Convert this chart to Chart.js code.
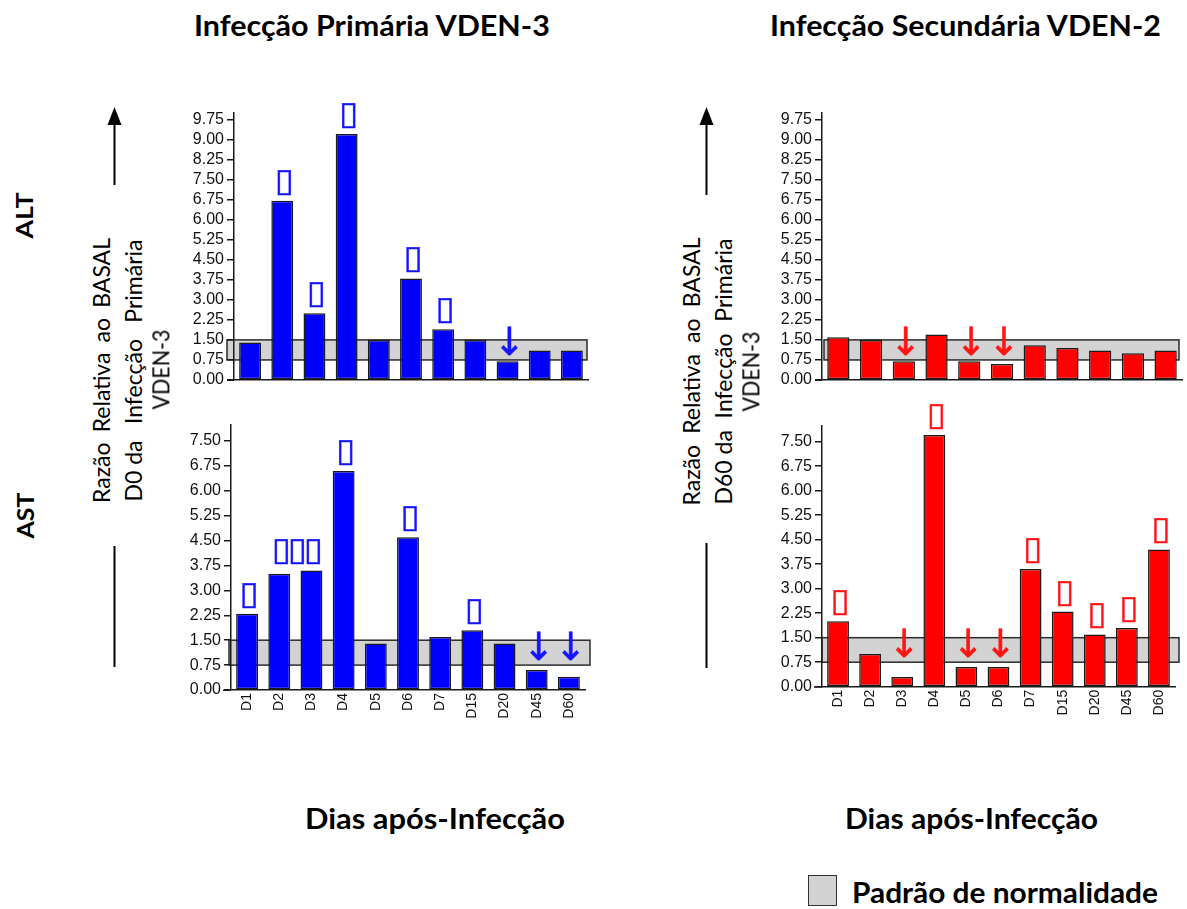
<!DOCTYPE html>
<html lang="pt">
<head>
<meta charset="utf-8">
<title>Razão relativa ao basal – ALT e AST</title>
<script src="https://cdn.jsdelivr.net/npm/chart.js@4.4.1/dist/chart.umd.min.js"></script>
<style>
  html, body { margin: 0; padding: 0; background: #fff; }
  #page { position: relative; width: 1187px; height: 909px; overflow: hidden; background: #fff; color: #000; }
  #page canvas { position: absolute; }
  .txt { position: absolute; white-space: nowrap; color: #000; }
  .just { position: absolute; display: flex; justify-content: space-between; white-space: nowrap; color: #000; }
  .legend-box { position: absolute; left: 808px; top: 875px; width: 27px; height: 29px; background: #d3d3d3; border: 1.5px solid #333; }
</style>
</head>
<body>
<div id="page">
  <svg width="1187" height="909" style="position:absolute;left:0;top:0">
    <g stroke="#000" stroke-width="2">
      <line x1="114.5" y1="122" x2="114.5" y2="185"/>
      <line x1="114.5" y1="546" x2="114.5" y2="667"/>
      <line x1="706.5" y1="122" x2="706.5" y2="195"/>
      <line x1="706.5" y1="543" x2="706.5" y2="668"/>
    </g>
    <polygon points="114.5,107 107.5,125 121.5,125" fill="#000"/>
    <polygon points="706.5,107 699.5,125 713.5,125" fill="#000"/>
  </svg>
  <canvas id="altPrim"></canvas>
  <canvas id="astPrim"></canvas>
  <canvas id="altSec"></canvas>
  <canvas id="astSec"></canvas>
  <div class="legend-box"></div>
</div>
<script>
// Dias após a infecção
const days = ['D1', 'D2', 'D3', 'D4', 'D5', 'D6', 'D7', 'D15', 'D20', 'D45', 'D60'];

// Razão relativa ao basal
const altPrimaria   = [1.4, 6.7, 2.5, 9.2, 1.5, 3.8, 1.9, 1.5, 0.7, 1.1, 1.1];
const astPrimaria   = [2.3, 3.5, 3.6, 6.6, 1.4, 4.6, 1.6, 1.8, 1.4, 0.6, 0.4];
const altSecundaria = [1.6, 1.5, 0.7, 1.7, 0.7, 0.6, 1.3, 1.2, 1.1, 1.0, 1.1];
const astSecundaria = [2.0, 1.0, 0.3, 7.7, 0.6, 0.6, 3.6, 2.3, 1.6, 1.8, 4.2];

// Padrão de normalidade (faixa)
const faixaNormal = [0.75, 1.5];

// Marcas do eixo Y
const ticksALT = [0, 0.75, 1.5, 2.25, 3, 3.75, 4.5, 5.25, 6, 6.75, 7.5, 8.25, 9, 9.75];
const ticksAST = [0, 0.75, 1.5, 2.25, 3, 3.75, 4.5, 5.25, 6, 6.75, 7.5];

// Sinalização de aumento (▯) ou redução (↓) por dia
const marcasAltPrim = ['', '▯', '▯', '▯', '', '▯', '▯', '', '↓', '', ''];
const marcasAstPrim = ['▯', '▯▯▯', '', '▯', '', '▯', '', '▯', '', '↓', '↓'];
const marcasAltSec  = ['', '', '↓', '', '↓', '↓', '', '', '', '', ''];
const marcasAstSec  = ['▯', '', '↓', '▯', '↓', '↓', '▯', '▯', '▯', '▯', '▯'];

const page = document.getElementById('page');
const tickFont = '"Liberation Sans", Arial, sans-serif';

// glyph scaled to fill a given box (centre x, top y, width, height)
function glyphInBox(ctx, ch, cx, top, w, h, color, weight) {
  ctx.save();
  ctx.font = '40px "DejaVu Sans"';
  const m = ctx.measureText(ch);
  const gw = m.actualBoundingBoxLeft + m.actualBoundingBoxRight;
  const gh = m.actualBoundingBoxAscent + m.actualBoundingBoxDescent;
  ctx.translate(cx - w / 2, top);
  ctx.scale(w / gw, h / gh);
  ctx.textAlign = 'left';
  ctx.textBaseline = 'alphabetic';
  ctx.fillStyle = color;
  ctx.fillText(ch, m.actualBoundingBoxLeft, m.actualBoundingBoxAscent);
  if (weight) {
    ctx.strokeStyle = color;
    ctx.lineWidth = weight;
    ctx.strokeText(ch, m.actualBoundingBoxLeft, m.actualBoundingBoxAscent);
  }
  ctx.restore();
}

function buildChart(cfg) {
  const cv = document.getElementById(cfg.id);
  cv.width = cfg.box.w; cv.height = cfg.box.h;
  cv.style.left = cfg.box.x + 'px'; cv.style.top = cfg.box.y + 'px';

  const faixa = {
    id: 'faixa_' + cfg.id,
    beforeDraw(chart) {
      const { ctx, chartArea: a, scales: { y } } = chart;
      const yTop = y.getPixelForValue(faixaNormal[1]);
      const yBot = y.getPixelForValue(faixaNormal[0]);
      const x0 = a.left + cfg.band[0], x1 = a.right + cfg.band[1];
      ctx.save();
      ctx.fillStyle = '#d3d3d3';
      ctx.fillRect(x0, yTop, x1 - x0, yBot - yTop);
      ctx.strokeStyle = '#2b2b2b';
      ctx.lineWidth = 1.5;
      ctx.strokeRect(x0, yTop, x1 - x0, yBot - yTop);
      ctx.restore();
    }
  };

  const eixo = {
    id: 'eixo_' + cfg.id,
    afterDraw(chart) {
      const { ctx, chartArea: a } = chart;
      ctx.save();
      ctx.strokeStyle = '#1a1a1a';
      ctx.lineWidth = 1.5;
      ctx.beginPath();
      ctx.moveTo(a.left - cfg.ext, a.bottom + 0.25);
      ctx.lineTo(a.left, a.bottom + 0.25);
      ctx.stroke();
      ctx.restore();
    }
  };

  const marcas = {
    id: 'marcas_' + cfg.id,
    afterDatasetsDraw(chart) {
      const { ctx, scales: { x, y } } = chart;
      cfg.marks.forEach((m, i) => {
        if (!m) return;
        const shift = (cfg.markShift && cfg.markShift[i]) || 0;
        const cx = x.getPixelForValue(i + shift) + 2;
        if (m === '↓') {
          const tip = y.getPixelForValue(faixaNormal[0]) - 4;
          glyphInBox(ctx, '↓', cx, tip - 30, 17, 30, cfg.markColor, 0.5);
        } else {
          const span = shift ? [cfg.values[i], cfg.values[i + 1]] : [cfg.values[i]];
          const barTop = y.getPixelForValue(Math.max(...span));
          const chars = [...m];
          const bottom = barTop - 6;
          chars.forEach((c, k) => {
            const bx = cx + (k - (chars.length - 1) / 2) * 16;
            glyphInBox(ctx, c, bx, bottom - 25, 14, 25, cfg.markColor, 0.5);
          });
        }
      });
    }
  };

  return new Chart(cv, {
    type: 'bar',
    data: {
      labels: days,
      datasets: [{
        data: cfg.values,
        backgroundColor: cfg.color,
        borderColor: '#1a1a1a',
        borderWidth: 1.5,
        borderSkipped: false,
        barPercentage: 0.68,
        categoryPercentage: 1
      }]
    },
    options: {
      responsive: false,
      animation: false,
      events: [],
      devicePixelRatio: 1,
      layout: {
        padding: {
          left: 0,
          top: cfg.area.top - cfg.box.y,
          right: (cfg.box.x + cfg.box.w) - cfg.area.right,
          bottom: 0
        }
      },
      plugins: { legend: { display: false }, tooltip: { enabled: false }, title: { display: false } },
      scales: {
        x: {
          grid: { display: false, drawTicks: false },
          border: { display: true, color: '#1a1a1a', width: 1.5 },
          ticks: {
            display: cfg.showX,
            maxRotation: 90, minRotation: 90,
            autoSkip: false, padding: 3,
            color: '#111',
            font: { family: tickFont, size: 14 }
          },
          afterFit: s => { s.height = (cfg.box.y + cfg.box.h) - cfg.area.bottom; }
        },
        y: {
          min: 0, max: cfg.yMax,
          grid: { drawOnChartArea: false, drawTicks: true, tickLength: 7, color: '#1a1a1a', lineWidth: 1.5 },
          border: { display: true, color: '#1a1a1a', width: 1.5 },
          ticks: {
            autoSkip: false,
            padding: 3,
            color: '#111',
            font: { family: tickFont, size: 16 },
            callback: v => Number(v).toFixed(2)
          },
          afterBuildTicks: s => { s.ticks = cfg.ticks.map(v => ({ value: v })); },
          afterFit: s => { s.width = cfg.area.left - cfg.box.x; }
        }
      }
    },
    plugins: [faixa, marcas, eixo]
  });
}

buildChart({
  id: 'altPrim', values: altPrimaria, color: '#0000ff', markColor: '#1414ff',
  yMax: 10, ticks: ticksALT, marks: marcasAltPrim, showX: false,
  box: { x: 150, y: 92, w: 450, h: 303 },
  area: { left: 234, right: 588, top: 112.6, bottom: 380 },
  band: [-7, -1], ext: 7
});
buildChart({
  id: 'astPrim', values: astPrimaria, color: '#0000ff', markColor: '#1414ff',
  yMax: 8, ticks: ticksAST, marks: marcasAstPrim, markShift: { 1: 0.5 }, showX: true,
  box: { x: 150, y: 396, w: 450, h: 349 },
  area: { left: 231, right: 585, top: 424.4, bottom: 690 },
  band: [-2, 5], ext: 8
});
buildChart({
  id: 'altSec', values: altSecundaria, color: '#ff0000', markColor: '#ff1414',
  yMax: 10, ticks: ticksALT, marks: marcasAltSec, showX: false,
  box: { x: 740, y: 92, w: 447, h: 303 },
  area: { left: 822, right: 1182, top: 112.6, bottom: 380 },
  band: [2, -3], ext: 7
});
buildChart({
  id: 'astSec', values: astSecundaria, color: '#ff0000', markColor: '#ff1414',
  yMax: 8, ticks: ticksAST, marks: marcasAstSec, showX: true,
  box: { x: 740, y: 396, w: 447, h: 349 },
  area: { left: 822, right: 1175, top: 425.3, bottom: 686.7 },
  band: [0, 4], ext: 8
});

// ---- texts around the panels ----
const meas = document.createElement('canvas').getContext('2d');
function fontStr(t) { return `${t.weight || 400} ${t.size}px ${t.family || 'Lato, "Open Sans", sans-serif'}`; }
function metrics(t, sample) {
  meas.font = fontStr(t);
  const m = meas.measureText(sample);
  const asc = m.fontBoundingBoxAscent, desc = m.fontBoundingBoxDescent;
  const L = t.size;
  return {
    width: m.width,
    baseOff: (L - (asc + desc)) / 2 + asc,
    capH: meas.measureText('H').actualBoundingBoxAscent,
    L
  };
}

function addText(t) {
  const mt = metrics(t, t.text);
  const el = document.createElement('div');
  el.className = 'txt';
  el.textContent = t.text;
  el.style.font = fontStr(t);
  el.style.lineHeight = mt.L + 'px';
  el.style.height = mt.L + 'px';
  const k = t.width ? t.width / mt.width : 1;
  if (!t.rotate) {
    el.style.left = t.left + 'px';
    el.style.top = (t.capTop + mt.capH - mt.baseOff) + 'px';
    el.style.transformOrigin = '0 50%';
    el.style.transform = `scaleX(${k})`;
  } else {
    el.style.width = mt.width + 'px';
    el.style.textAlign = 'center';
    const cx = t.capLeft - mt.baseOff + mt.capH + mt.L / 2;
    el.style.left = (cx - mt.width / 2) + 'px';
    el.style.top = (t.cy - mt.L / 2) + 'px';
    el.style.transform = `rotate(-90deg) scaleX(${k})`;
  }
  page.appendChild(el);
}

// vertical justified line (reads upwards)
function addJustified(t) {
  const mt = metrics(t, t.words.join(' '));
  const el = document.createElement('div');
  el.className = 'just';
  el.style.font = fontStr(t);
  el.style.lineHeight = mt.L + 'px';
  el.style.height = mt.L + 'px';
  el.style.width = t.width + 'px';
  t.words.forEach(w => { const s = document.createElement('span'); s.textContent = w; el.appendChild(s); });
  const cx = t.capLeft - mt.baseOff + mt.capH + mt.L / 2;
  el.style.left = (cx - t.width / 2) + 'px';
  el.style.top = (t.cy - mt.L / 2) + 'px';
  el.style.transform = 'rotate(-90deg)';
  page.appendChild(el);
}

const bold = 700;
addText({ text: 'Infecção Primária VDEN-3', left: 194, capTop: 15, width: 357, size: 28, weight: bold });
addText({ text: 'Infecção Secundária VDEN-2', left: 770, capTop: 15, width: 392, size: 28, weight: bold });
addText({ text: 'Dias após-Infecção', left: 305, capTop: 808, width: 260, size: 28, weight: bold });
addText({ text: 'Dias após-Infecção', left: 845, capTop: 808, width: 253, size: 28, weight: bold });
addText({ text: 'Padrão de normalidade', left: 852, capTop: 882, width: 306, size: 29, weight: bold });

addText({ text: 'ALT', rotate: true, capLeft: 17, cy: 215, width: 46, size: 23, weight: bold });
addText({ text: 'AST', rotate: true, capLeft: 17, cy: 515, width: 46, size: 23, weight: bold });

addJustified({ words: ['Razão', 'Relativa', 'ao', 'BASAL'], capLeft: 93, cy: 370, width: 265, size: 23 });
addJustified({ words: ['D0 da', 'Infecção', 'Primária'], capLeft: 125, cy: 370, width: 262, size: 23 });
addText({ text: 'VDEN-3', rotate: true, capLeft: 153, cy: 369, width: 80, size: 23 });

addJustified({ words: ['Razão', 'Relativa', 'ao', 'BASAL'], capLeft: 683, cy: 371, width: 268, size: 23 });
addJustified({ words: ['D60 da', 'Infecção', 'Primária'], capLeft: 715, cy: 371, width: 266, size: 23 });
addText({ text: 'VDEN-3', rotate: true, capLeft: 743, cy: 371, width: 80, size: 23 });
</script>
</body>
</html>
